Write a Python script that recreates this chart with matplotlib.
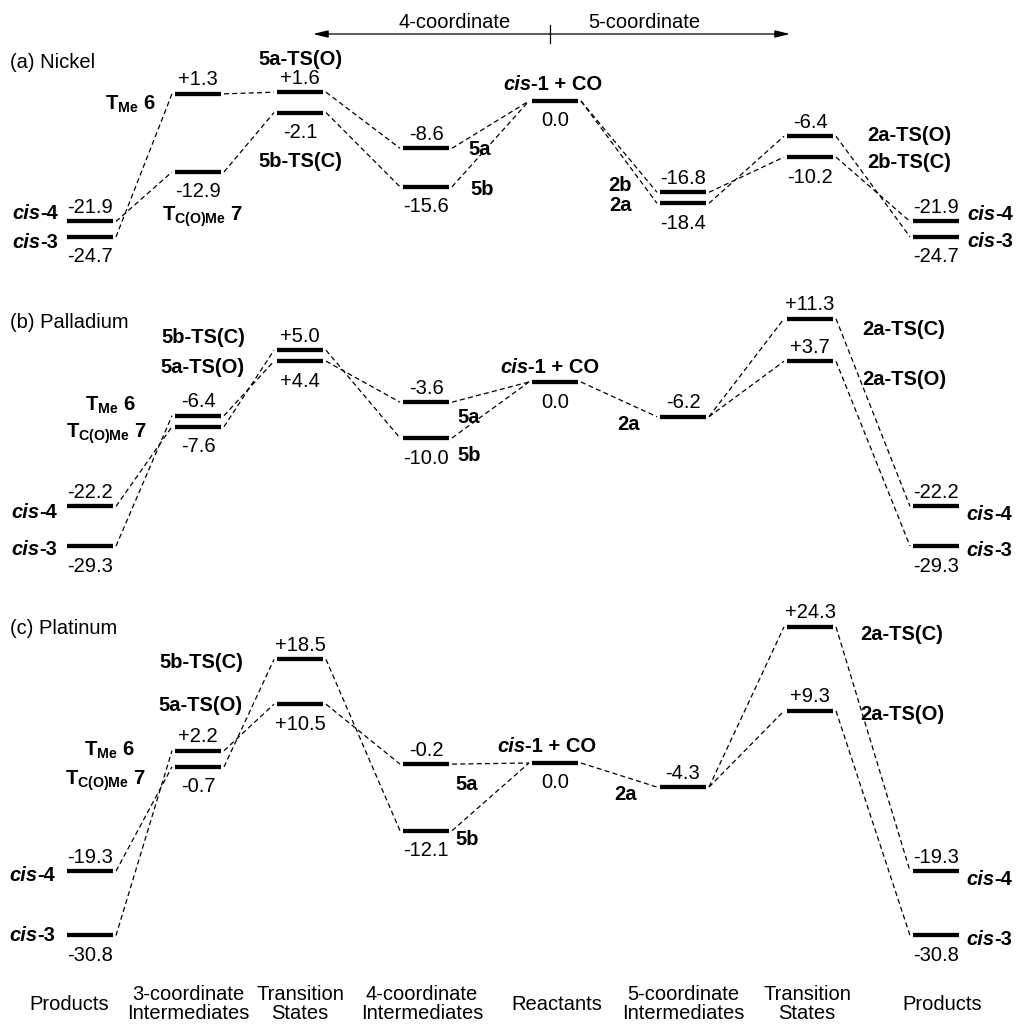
import matplotlib
matplotlib.use("Agg")
import matplotlib.pyplot as plt
from matplotlib.transforms import offset_copy

plt.rcParams["font.family"] = "Liberation Sans"
plt.rcParams["mathtext.fontset"] = "custom"
plt.rcParams["mathtext.bf"] = "Liberation Sans:bold"
plt.rcParams["mathtext.rm"] = "Liberation Sans"
plt.rcParams["mathtext.it"] = "Liberation Sans:italic"

FS = 14.5

# reaction coordinate columns
columns = ["Products", "3-coordinate\nIntermediates", "Transition\nStates",
           "4-coordinate\nIntermediates", "Reactants", "5-coordinate\nIntermediates",
           "Transition\nStates", "Products"]
col_of = {"P4": 0, "P3": 0, "T6": 1, "T7": 1, "TSa": 2, "TSb": 2, "I5a": 3, "I5b": 3,
          "R": 4, "I2a": 5, "I2b": 5, "TSO": 6, "TSC": 6, "Q4": 7, "Q3": 7}

# relative energies (kcal/mol)
ni_E = {"P4": -21.9, "P3": -24.7, "T6": 1.3, "T7": -12.9, "TSa": 1.6, "TSb": -2.1,
        "I5a": -8.6, "I5b": -15.6, "R": 0.0, "I2b": -16.8, "I2a": -18.4,
        "TSO": -6.4, "TSC": -10.2, "Q4": -21.9, "Q3": -24.7}
pd_E = {"P4": -22.2, "P3": -29.3, "T6": -6.4, "T7": -7.6, "TSb": 5.0, "TSa": 4.4,
        "I5a": -3.6, "I5b": -10.0, "R": 0.0, "I2a": -6.2,
        "TSC": 11.3, "TSO": 3.7, "Q4": -22.2, "Q3": -29.3}
pt_E = {"P4": -19.3, "P3": -30.8, "T6": 2.2, "T7": -0.7, "TSb": 18.5, "TSa": 10.5,
        "I5a": -0.2, "I5b": -12.1, "R": 0.0, "I2a": -4.3,
        "TSC": 24.3, "TSO": 9.3, "Q4": -19.3, "Q3": -30.8}

ni_paths = [["P3", "T6", "TSa", "I5a", "R", "I2a", "TSO", "Q3"],
            ["P4", "T7", "TSb", "I5b", "R", "I2b", "TSC", "Q4"]]
pdpt_paths = [["P3", "T6", "TSa", "I5a", "R", "I2a", "TSO", "Q3"],
              ["P4", "T7", "TSb", "I5b", "R", "I2a", "TSC", "Q4"]]

names = {"P4": ("cis", "-4"), "P3": ("cis", "-3"), "Q4": ("cis", "-4"), "Q3": ("cis", "-3"),
         "R": ("cis", "-1 + CO"), "T6": r"$\mathbf{T_{Me}\ 6}$", "T7": r"$\mathbf{T_{C(O)Me}\ 7}$",
         "TSa": "5a-TS(O)", "TSb": "5b-TS(C)", "I5a": "5a", "I5b": "5b",
         "I2a": "2a", "I2b": "2b", "TSO": "2a-TS(O)", "TSC": "2a-TS(C)"}
ni_names = dict(names, TSC="2b-TS(C)")

# layout: value side ('a' above / 'b' below), name offset in px (dx, dy down), name alignment
ni_layout = {"P4": ("a", -32, -10, "right"), "P3": ("b", -32, 4, "right"),
             "T6": ("a", -42, 8, "right"), "T7": ("b", -36, 41, "left"),
             "TSa": ("a", 0, -35, "center"), "TSb": ("b", 0, 47, "center"),
             "I5a": ("a", 42, -1, "left"), "I5b": ("b", 44, 1, "left"),
             "R": ("b", -52, -18, "left"),
             "I2b": ("a", -51, -9, "right"), "I2a": ("b", -51, 0, "right"),
             "TSO": ("a", 57, -3, "left"), "TSC": ("b", 57, 3, "left"),
             "Q4": ("a", 31, -9, "left"), "Q3": ("b", 31, 3, "left")}
pd_layout = {"P4": ("a", -33, 4, "right"), "P3": ("b", -33, 1, "right"),
             "T6": ("a", -62, -13, "right"), "T7": ("b", -51, 3, "right"),
             "TSb": ("a", -55, -15, "right"), "TSa": ("b", -55, 4, "right"),
             "I5a": ("a", 31, 13, "left"), "I5b": ("b", 31, 15, "left"),
             "R": ("b", -55, -17, "left"), "I2a": ("a", -43, 6, "right"),
             "TSC": ("a", 52, 9, "left"), "TSO": ("a", 52, 16, "left"),
             "Q4": ("a", 30, 6, "left"), "Q3": ("b", 30, 2, "left")}
pt_layout = {"P4": ("a", -35, 2, "right"), "P3": ("b", -35, -2, "right"),
             "T6": ("a", -63, -3, "right"), "T7": ("b", -52, 10, "right"),
             "TSb": ("a", -57, 1, "right"), "TSa": ("b", -57, -1, "right"),
             "I5a": ("a", 29, 18, "left"), "I5b": ("b", 29, 7, "left"),
             "R": ("b", -58, -18, "left"), "I2a": ("a", -46, 5, "right"),
             "TSC": ("a", 50, 6, "left"), "TSO": ("a", 50, 2, "left"),
             "Q4": ("a", 30, 6, "left"), "Q3": ("b", 30, 2, "left")}

col_x = [90, 198, 300, 426, 555, 683, 810, 936]
label_x = [69, 188, 300, 422, 557, 683, 807, 942]
half = 23

panels = [("(a) Nickel", 60, ni_E, ni_paths, ni_names, ni_layout, 101, 5.5),
          ("(b) Palladium", 320, pd_E, pdpt_paths, names, pd_layout, 382, 5.6),
          ("(c) Platinum", 627, pt_E, pdpt_paths, names, pt_layout, 763, 5.6)]

fig = plt.figure(figsize=(10.16, 10.24), dpi=100)
ov = fig.add_axes([0, 0, 1, 1], label="overlay")
ov.set_xlim(0, 1016)
ov.set_ylim(1024, 0)
ov.axis("off")


def spread(E, s, gap=11):
    # keep close levels in one column visually apart
    disp = dict(E)
    groups = {}
    for k in E:
        groups.setdefault(col_of[k], []).append(k)
    for keys in groups.values():
        if len(keys) == 2:
            a, b = sorted(keys, key=lambda k: -E[k])
            if (E[a] - E[b]) * s < gap:
                mid = (E[a] + E[b]) / 2
                disp[a] = mid + gap / s / 2
                disp[b] = mid - gap / s / 2
    return disp


def fmt(v):
    if v == 0:
        return "0.0"
    return f"{v:+.1f}" if v > 0 else f"{v:.1f}"


def put_name(ax, x, y, label, dx, dy, ha):
    tr = offset_copy(ax.transData, fig=fig, x=dx, y=-dy, units="dots")
    if isinstance(label, tuple):
        first, second = label
        if ha == "right":
            t2 = ax.text(x, y, second, transform=tr, ha="right", va="center_baseline",
                         fontsize=FS, fontweight="bold")
            ax.annotate(first, xy=(0, 0), xycoords=t2, ha="right", va="bottom",
                        fontsize=FS, fontweight="bold", fontstyle="italic")
        else:
            t1 = ax.text(x, y, first, transform=tr, ha="left", va="center_baseline",
                         fontsize=FS, fontweight="bold", fontstyle="italic")
            ax.annotate(second, xy=(1, 0), xycoords=t1, ha="left", va="bottom",
                        fontsize=FS, fontweight="bold")
    else:
        ax.text(x, y, label, transform=tr, ha=ha, va="center_baseline",
                fontsize=FS, fontweight="bold")


for title, ty, E, paths, nm, layout, y0, s in panels:
    ax = fig.add_axes([0, 0, 1, 1], label=title)
    ax.set_xlim(0, 1016)
    ax.set_ylim((y0 - 1024) / s, y0 / s)
    ax.axis("off")
    ov.text(10, ty, title, fontsize=FS, va="center_baseline")

    D = spread(E, s)
    edges = set()
    for p in paths:
        for a, b in zip(p[:-1], p[1:]):
            edges.add((a, b))
    for a, b in edges:
        xa = col_x[col_of[a]] + half + 3
        xb = col_x[col_of[b]] - half - 3
        ax.plot([xa, xb], [D[a], D[b]], color="black", lw=0.9, ls=(0, (4, 2.6)))

    for k, v in E.items():
        x = col_x[col_of[k]]
        ax.plot([x - half, x + half], [D[k], D[k]], color="black", lw=3.1,
                solid_capstyle="butt")
        side, dx, dy, ha = layout[k]
        off = -16 if side == "a" else 18
        tr = offset_copy(ax.transData, fig=fig, x=0, y=-off, units="dots")
        ax.text(x, D[k], fmt(v), transform=tr, ha="center", va="center_baseline",
                fontsize=FS)
        put_name(ax, x, D[k], nm[k], dx, dy, ha)

# coordination arrow across the top
ov.annotate("", xy=(313, 34), xytext=(550, 34),
            arrowprops=dict(arrowstyle="-|>,head_length=0.9,head_width=0.22",
                            lw=0.9, color="black", shrinkA=0, shrinkB=0))
ov.annotate("", xy=(790, 34), xytext=(550, 34),
            arrowprops=dict(arrowstyle="-|>,head_length=0.9,head_width=0.22",
                            lw=0.9, color="black", shrinkA=0, shrinkB=0))
ov.plot([550, 550], [25, 43], color="black", lw=0.9)
ov.text(455, 21, "4-coordinate", fontsize=FS, ha="center", va="center_baseline")
ov.text(644, 21, "5-coordinate", fontsize=FS, ha="center", va="center_baseline")

for lx, lab in zip(label_x, columns):
    ov.text(lx, 1004, lab, fontsize=FS, ha="center", va="center", linespacing=0.95)

fig.savefig("out.png", dpi=100)
